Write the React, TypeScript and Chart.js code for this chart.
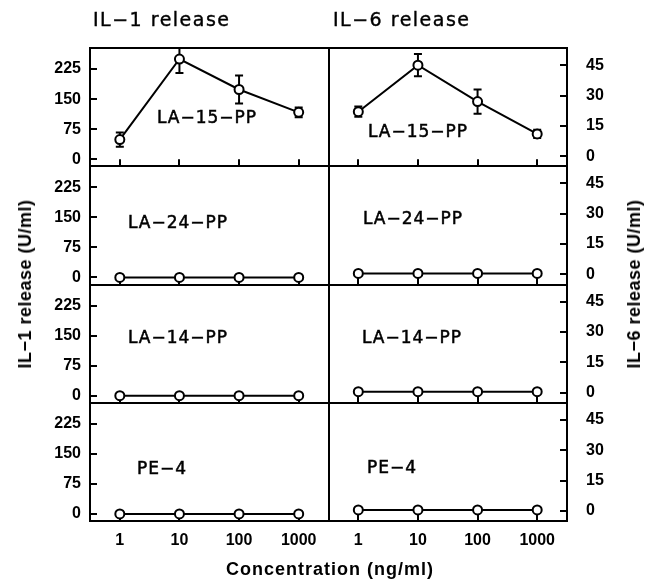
import React, { useEffect, useRef } from "react";
import { Chart, registerables } from "chart.js";

Chart.register(...registerables);

// ---------- data ----------
const CONCENTRATIONS = ["1", "10", "100", "1000"];
const IL1_TICKS = [0, 75, 150, 225];
const IL6_TICKS = [0, 15, 30, 45];
const IL1_RANGE = [-17.5, 277.5];
const IL6_RANGE = [-5, 53.5];
const PREPARATIONS = ["LA−15−PP", "LA−24−PP", "LA−14−PP", "PE−4"];

const IL1_LA15 = [49, 250, 174, 117];
const IL1_LA15_SD = [18, 35, 35, 12];
const IL6_LA15 = [22, 45, 27, 11];
const IL6_LA15_SD = [2.5, 5.5, 6, 2];

const IL1_LA24 = [0, 0, 0, 0];
const IL1_LA24_SD = [2, 2, 2, 2];
const IL6_LA24 = [0.5, 0.5, 0.5, 0.5];
const IL6_LA24_SD = [0.5, 0.5, 0.5, 0.5];

const IL1_LA14 = [0, 0, 0, 0];
const IL1_LA14_SD = [2, 2, 2, 2];
const IL6_LA14 = [0.5, 0.5, 0.5, 0.5];
const IL6_LA14_SD = [0.5, 0.5, 0.5, 0.5];

const IL1_PE4 = [0, 0, 0, 0];
const IL1_PE4_SD = [2, 2, 2, 2];
const IL6_PE4 = [0.5, 0.5, 0.5, 0.5];
const IL6_PE4_SD = [0.5, 0.5, 0.5, 0.5];

const IL1_ROWS = [IL1_LA15, IL1_LA24, IL1_LA14, IL1_PE4];
const IL1_SDS = [IL1_LA15_SD, IL1_LA24_SD, IL1_LA14_SD, IL1_PE4_SD];
const IL6_ROWS = [IL6_LA15, IL6_LA24, IL6_LA14, IL6_PE4];
const IL6_SDS = [IL6_LA15_SD, IL6_LA24_SD, IL6_LA14_SD, IL6_PE4_SD];

// ---------- styling ----------
const W = 652;
const H = 579;
const TICK_FONT = { family: '"Liberation Sans", Arial, sans-serif', size: 16, weight: "bold" as const };
const LABEL_FONT = '"DejaVu Sans", "Liberation Sans", sans-serif';

const LABEL_POS = [
  { l: [157, 117], r: [368, 131] },
  { l: [128, 222], r: [363, 218] },
  { l: [128, 337], r: [362, 337] },
  { l: [137, 468], r: [367, 467] },
];

const ERRORS: number[][] = [];

const panelPlugin = {
  id: "panels",
  beforeDatasetsDraw(chart: any) {
    const ctx = chart.ctx;
    ctx.save();
    ctx.strokeStyle = "#000";
    ctx.lineWidth = 2;
    // error bars
    chart.data.datasets.forEach((ds: any, i: number) => {
      const xs = chart.scales[ds.xAxisID];
      const ys = chart.scales[ds.yAxisID];
      const err = ERRORS[i];
      ctx.save();
      ctx.beginPath();
      ctx.rect(xs.left, ys.top, xs.width, ys.height);
      ctx.clip();
      ds.data.forEach((v: number, j: number) => {
        const x = xs.getPixelForValue(j);
        const yt = ys.getPixelForValue(v + err[j]);
        const yb = ys.getPixelForValue(v - err[j]);
        ctx.beginPath();
        ctx.moveTo(x, yt);
        ctx.lineTo(x, yb);
        ctx.moveTo(x - 4, yt);
        ctx.lineTo(x + 4, yt);
        ctx.moveTo(x - 4, yb);
        ctx.lineTo(x + 4, yb);
        ctx.stroke();
      });
      ctx.restore();
    });
    // inward x tick marks at the bottom of the upper rows
    const xAxes = [chart.scales.xL, chart.scales.xR];
    ["yL1", "yL2", "yL3"].forEach((id) => {
      const ys = chart.scales[id];
      xAxes.forEach((xs: any) => {
        xs.ticks.forEach((_: any, k: number) => {
          const x = Math.round(xs.getPixelForTick(k));
          ctx.beginPath();
          ctx.moveTo(x, ys.bottom);
          ctx.lineTo(x, ys.bottom - 7);
          ctx.stroke();
        });
      });
    });
    ctx.restore();
  },
  afterDatasetsDraw(chart: any) {
    const ctx = chart.ctx;
    const a = chart.chartArea;
    ctx.save();
    ctx.strokeStyle = "#000";
    ctx.lineWidth = 2;
    ctx.beginPath();
    ctx.rect(a.left, a.top, a.right - a.left, a.bottom - a.top);
    const mid = Math.round(chart.scales.xL.right);
    ctx.moveTo(mid, a.top);
    ctx.lineTo(mid, a.bottom);
    ["yL1", "yL2", "yL3"].forEach((id) => {
      const y = Math.round(chart.scales[id].bottom);
      ctx.moveTo(a.left, y);
      ctx.lineTo(a.right, y);
    });
    ctx.stroke();
    ctx.restore();
  },
};

function yAxis(side: "left" | "right", row: number) {
  const left = side === "left";
  const ticksArr = left ? IL1_TICKS : IL6_TICKS;
  const range = left ? IL1_RANGE : IL6_RANGE;
  return {
    type: "linear",
    position: side,
    stack: left ? "il1" : "il6",
    stackWeight: 1,
    weight: left ? 4 - row : row + 1,
    min: range[0],
    max: range[1],
    afterBuildTicks: (s: any) => {
      s.ticks = ticksArr.map((v) => ({ value: v }));
    },
    afterFit: (s: any) => {
      s.width = left ? 90 : 85;
    },
    border: { display: false },
    grid: {
      drawOnChartArea: false,
      drawTicks: true,
      tickLength: -7,
      tickWidth: 2,
      tickColor: "#000",
      color: "#000",
      lineWidth: 2,
    },
    ticks: {
      color: "#000",
      font: TICK_FONT,
      padding: left ? 16 : 26,
      autoSkip: false,
    },
  };
}

function xAxis(order: number) {
  return {
    type: "category",
    labels: CONCENTRATIONS,
    position: "bottom",
    stack: "conc",
    stackWeight: 1,
    weight: order,
    offset: true,
    afterFit: (s: any) => {
      s.height = 58;
    },
    border: { display: false },
    grid: {
      offset: false,
      drawOnChartArea: false,
      drawTicks: true,
      tickLength: -7,
      tickWidth: 2,
      tickColor: "#000",
      color: "#000",
      lineWidth: 2,
    },
    ticks: {
      color: "#000",
      font: TICK_FONT,
      padding: 17,
      maxRotation: 0,
      autoSkip: false,
    },
  };
}

export default function App() {
  const ref = useRef<HTMLCanvasElement | null>(null);

  useEffect(() => {
    if (!ref.current) return;
    ERRORS.length = 0;
    const datasets: any[] = [];
    for (let r = 0; r < 4; r++) {
      datasets.push({
        type: "line",
        label: "IL-1 " + PREPARATIONS[r],
        data: IL1_ROWS[r],
        xAxisID: "xL",
        yAxisID: "yL" + (r + 1),
      });
      ERRORS.push(IL1_SDS[r]);
      datasets.push({
        type: "line",
        label: "IL-6 " + PREPARATIONS[r],
        data: IL6_ROWS[r],
        xAxisID: "xR",
        yAxisID: "yR" + (r + 1),
      });
      ERRORS.push(IL6_SDS[r]);
    }
    datasets.forEach((d) => {
      Object.assign(d, {
        borderColor: "#000",
        borderWidth: 2,
        tension: 0,
        pointRadius: 4.5,
        pointHoverRadius: 4.5,
        pointBorderWidth: 2,
        pointBackgroundColor: "#fff",
        pointBorderColor: "#000",
        fill: false,
        clip: false,
      });
    });

    const scales: any = {
      xL: xAxis(1),
      xR: xAxis(2),
    };
    for (let r = 0; r < 4; r++) {
      scales["yL" + (r + 1)] = yAxis("left", r);
      scales["yR" + (r + 1)] = yAxis("right", r);
    }

    const chart = new Chart(ref.current, {
      type: "line",
      data: { labels: CONCENTRATIONS, datasets },
      options: {
        responsive: false,
        animation: false,
        devicePixelRatio: 1,
        layout: { padding: { top: 48, left: 0, right: 0, bottom: 0 } },
        plugins: {
          legend: { display: false },
          tooltip: { enabled: false },
          title: { display: false },
        },
        scales,
      } as any,
      plugins: [panelPlugin as any],
    });
    return () => chart.destroy();
  }, []);

  const text = (
    key: string,
    content: string,
    x: number,
    y: number,
    style: React.CSSProperties,
    rotate = false
  ) => (
    <div
      key={key}
      style={{
        position: "absolute",
        left: x,
        top: y,
        whiteSpace: "nowrap",
        lineHeight: 1,
        color: "#000",
        transform: rotate ? "translate(-50%, -50%) rotate(-90deg)" : "translateY(-50%)",
        ...style,
      }}
    >
      {content}
    </div>
  );

  const titleStyle: React.CSSProperties = {
    fontFamily: LABEL_FONT,
    fontSize: 19,
    letterSpacing: 1.5,
    WebkitTextStroke: "0.4px #000",
  };
  const panelStyle: React.CSSProperties = {
    fontFamily: LABEL_FONT,
    fontSize: 17,
    letterSpacing: 1,
    WebkitTextStroke: "0.5px #000",
  };
  const axisTitleStyle: React.CSSProperties = {
    fontFamily: '"Liberation Sans", Arial, sans-serif',
    fontWeight: "bold",
    fontSize: 18,
    letterSpacing: 0.5,
  };

  return (
    <div
      style={{
        position: "absolute",
        left: 0,
        top: 0,
        width: W,
        height: H,
        background: "#fff",
        overflow: "hidden",
      }}
    >
      <canvas ref={ref} width={W} height={H} style={{ display: "block", position: "absolute", left: 0, top: 0 }} />
      {text("t1", "IL−1  release", 93, 19, titleStyle)}
      {text("t2", "IL−6  release", 333, 19, titleStyle)}
      {PREPARATIONS.map((p, r) => (
        <React.Fragment key={p}>
          {text("pl" + r, p, LABEL_POS[r].l[0], LABEL_POS[r].l[1], panelStyle)}
          {text("pr" + r, p, LABEL_POS[r].r[0], LABEL_POS[r].r[1], panelStyle)}
        </React.Fragment>
      ))}
      {text("yl", "IL−1  release  (U/ml)", 25, 284, axisTitleStyle, true)}
      {text("yr", "IL−6  release  (U/ml)", 634, 284, axisTitleStyle, true)}
      {text("xt", "Concentration  (ng/ml)", 330, 569, { ...axisTitleStyle, fontSize: 18, letterSpacing: 1, transform: "translate(-50%, -50%)" })}
    </div>
  );
}
